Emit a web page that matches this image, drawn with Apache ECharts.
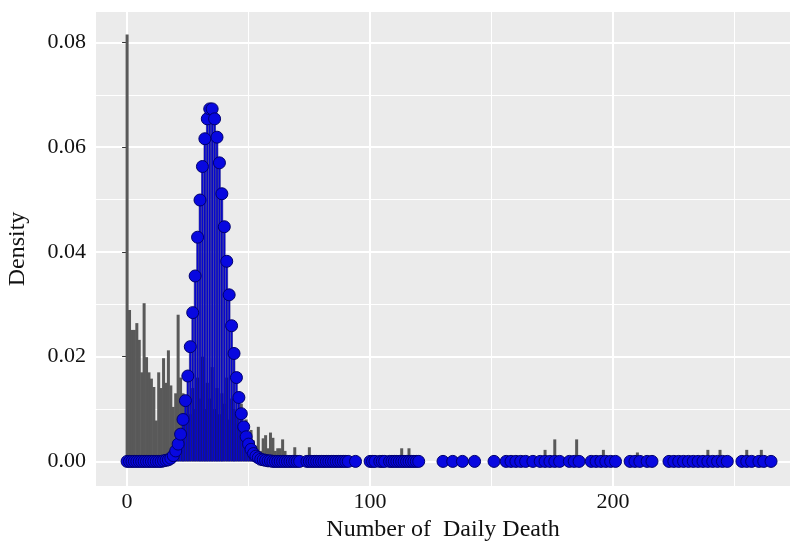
<!DOCTYPE html>
<html>
<head>
<meta charset="utf-8">
<script src="https://cdn.jsdelivr.net/npm/echarts@6/dist/echarts.min.js"></script>
<style>
  html, body { margin: 0; padding: 0; background: #fff; }
  #chart { width: 790px; height: 541px; }
</style>
</head>
<body>
<div id="chart"></div>
<script>
// Empirical density of daily deaths (grey histogram, bin width 1)
// with a fitted Poisson pmf drawn as blue stems + points.

// Histogram bars: value and density.
const histX = [
  0, 1, 2, 3, 4, 5, 6, 7, 8, 9, 10, 11, 12, 13, 14, 15, 16, 17, 18, 19,
  20, 21, 22, 23, 24, 25, 26, 27, 28, 29, 30, 31, 32, 33, 34, 35, 36, 37, 38, 39,
  40, 41, 42, 43, 44, 45, 46, 47, 48, 49, 50, 51, 52, 53, 54, 55, 56, 57, 58, 59,
  60, 61, 62, 63, 64, 65, 69, 75, 113, 116, 172, 176, 185, 196, 210, 239, 244, 255, 261
];
const histY = [
  0.0815, 0.0289, 0.0251, 0.0251, 0.0264, 0.0232, 0.0170, 0.0302, 0.0199, 0.0170,
  0.0158, 0.0142, 0.0078, 0.0170, 0.0140, 0.0197, 0.0150, 0.0212, 0.0145, 0.0104,
  0.0130, 0.0280, 0.0160, 0.0130, 0.0092, 0.0120, 0.0090, 0.0140, 0.0100, 0.0160,
  0.0120, 0.0200, 0.0100, 0.0150, 0.0120, 0.0180, 0.0100, 0.0140, 0.0090, 0.0130,
  0.0110, 0.0160, 0.0080, 0.0120, 0.0100, 0.0090, 0.0070, 0.0110, 0.0060, 0.0080,
  0.0050, 0.0060, 0.0040, 0.0030, 0.0066, 0.0020, 0.0044, 0.0050, 0.0025, 0.0055,
  0.0045, 0.0020, 0.0025, 0.0025, 0.0042, 0.0020, 0.0027, 0.0027, 0.0025, 0.0025,
  0.0022, 0.0042, 0.0042, 0.0022, 0.0017, 0.0022, 0.0022, 0.0022, 0.0022
];

// Fitted pmf in the body of the distribution.
const fitX = [
  0, 1, 2, 3, 4, 5, 6, 7, 8, 9, 10, 11, 12, 13, 14, 15, 16, 17, 18, 19,
  20, 21, 22, 23, 24, 25, 26, 27, 28, 29, 30, 31, 32, 33, 34, 35, 36, 37, 38, 39,
  40, 41, 42, 43, 44, 45, 46, 47, 48, 49, 50, 51, 52, 53, 54, 55, 56, 57, 58, 59, 60
];
const fitY = [
  0, 0, 0, 0, 0, 0, 0, 0, 0, 0, 0, 0, 0, 0, 0, 0.0001, 0.0002, 0.0003, 0.0006, 0.0011,
  0.0020, 0.0033, 0.0052, 0.0080, 0.0116, 0.0163, 0.0219, 0.0284, 0.0354, 0.0428,
  0.0499, 0.0563, 0.0616, 0.0654, 0.0673, 0.0673, 0.0654, 0.0619, 0.0570, 0.0511,
  0.0448, 0.0382, 0.0318, 0.0259, 0.0206, 0.0160, 0.0122, 0.0091, 0.0066, 0.0047,
  0.0033, 0.0023, 0.0015, 0.0010, 0.0007, 0.0004, 0.0003, 0.0002, 0.0001, 0.0001, 0
];

// Observed values in the tail, where the fitted pmf reads 0.
const tailX = [
  61, 62, 63, 64, 65, 66, 67, 68, 69, 70, 71, 74, 75, 76, 77, 78, 79, 80, 81, 82,
  83, 84, 85, 86, 87, 88, 89, 90, 91, 94,
  100, 101, 102, 104, 105, 106, 108, 109, 110, 111, 112, 113, 114, 115, 116, 117, 118, 119, 120,
  130, 134, 138, 143, 151, 156, 158, 160, 162, 164, 167,
  170, 172, 174, 176, 178, 182, 184, 186, 191, 193, 195, 197, 199, 201,
  207, 209, 211, 214, 216, 223, 225, 227, 229, 231, 233, 235, 237, 239, 241, 243, 245, 247,
  253, 255, 257, 260, 262, 265
];
const tailY = [
  0, 0, 0, 0, 0, 0, 0, 0, 0, 0, 0, 0, 0, 0, 0, 0, 0, 0, 0, 0,
  0, 0, 0, 0, 0, 0, 0, 0, 0, 0,
  0, 0, 0, 0, 0, 0, 0, 0, 0, 0, 0, 0, 0, 0, 0, 0, 0, 0, 0,
  0, 0, 0, 0, 0, 0, 0, 0, 0, 0, 0,
  0, 0, 0, 0, 0, 0, 0, 0, 0, 0, 0, 0, 0, 0,
  0, 0, 0, 0, 0, 0, 0, 0, 0, 0, 0, 0, 0, 0, 0, 0, 0, 0,
  0, 0, 0, 0, 0, 0
];

const xMajor = [0, 100, 200];
const xMinor = [50, 150, 250];
const yMajor = [0, 0.02, 0.04, 0.06, 0.08];
const yMinor = [0.01, 0.03, 0.05, 0.07];

const X_MIN = -12.8, X_MAX = 272.8;
const Y_MIN = -0.0047, Y_MAX = 0.0858;

const FONT = 'Liberation Serif';
const TEXT = '#111111';
const PANEL = '#ebebeb';
const GREY = '#595959';
const BLUE = '#0808e0';

const zip = (xs, ys) => xs.map((x, i) => [x, ys[i]]);

const chart = echarts.init(document.getElementById('chart'));

chart.setOption({
  animation: false,
  backgroundColor: '#ffffff',
  grid: {
    left: 96, right: 0, top: 12, bottom: 55,
    containLabel: false, outerBoundsMode: 'none',
    show: true, backgroundColor: PANEL, borderWidth: 0
  },
  xAxis: [{
    type: 'value', min: X_MIN, max: X_MAX, position: 'bottom',
    axisLine: { show: false },
    axisTick: { show: true, length: 5, customValues: xMajor, lineStyle: { color: '#333333', width: 1 } },
    axisLabel: { customValues: xMajor, fontFamily: FONT, fontSize: 22, color: TEXT, margin: 5 },
    splitLine: { show: true, lineStyle: { color: '#ffffff', width: 2 } },
    name: 'Number of  Daily Death', nameLocation: 'middle', nameGap: 31,
    nameTextStyle: { fontFamily: FONT, fontSize: 24, color: TEXT }
  }, {
    // minor grid only
    type: 'value', min: X_MIN, max: X_MAX, position: 'top',
    axisLine: { show: false },
    axisTick: { show: false, customValues: xMinor },
    axisLabel: { show: false, customValues: xMinor },
    splitLine: { show: true, lineStyle: { color: '#ffffff', width: 1 } }
  }],
  yAxis: [{
    type: 'value', min: Y_MIN, max: Y_MAX, position: 'left',
    axisLine: { show: false },
    axisTick: { show: true, length: 5, customValues: yMajor, lineStyle: { color: '#333333', width: 1 } },
    axisLabel: {
      customValues: yMajor, fontFamily: FONT, fontSize: 22, color: TEXT, margin: 10,
      formatter: v => v.toFixed(2)
    },
    splitLine: { show: true, lineStyle: { color: '#ffffff', width: 2 } },
    name: 'Density', nameLocation: 'middle', nameGap: 66, nameRotate: 90,
    nameTextStyle: { fontFamily: FONT, fontSize: 24, color: TEXT }
  }, {
    type: 'value', min: Y_MIN, max: Y_MAX, position: 'right',
    axisLine: { show: false },
    axisTick: { show: false, customValues: yMinor },
    axisLabel: { show: false, customValues: yMinor },
    splitLine: { show: true, lineStyle: { color: '#ffffff', width: 1 } }
  }],
  series: [{
    name: 'empirical', type: 'bar',
    xAxisIndex: 0, yAxisIndex: 0,
    data: zip(histX, histY),
    barWidth: 3,
    itemStyle: { color: GREY },
    silent: true, z: 2
  }, {
    name: 'stems', type: 'bar',
    xAxisIndex: 1, yAxisIndex: 0,
    data: zip(fitX, fitY),
    barWidth: 2.3,
    itemStyle: { color: BLUE, borderColor: '#000070', borderWidth: 0.5 },
    silent: true, z: 3
  }, {
    name: 'fit', type: 'scatter',
    xAxisIndex: 0, yAxisIndex: 0,
    data: zip(fitX, fitY).concat(zip(tailX, tailY)),
    symbol: 'circle', symbolSize: 12,
    itemStyle: { color: BLUE, borderColor: '#00006e', borderWidth: 1, opacity: 1 },
    silent: true, z: 4
  }]
});
</script>
</body>
</html>
